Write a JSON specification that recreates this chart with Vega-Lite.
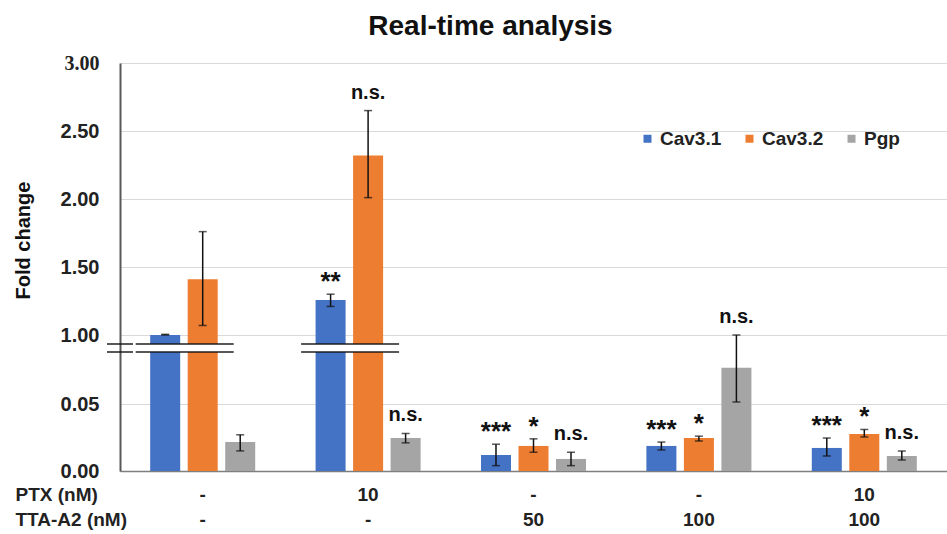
{
  "$schema": "https://vega.github.io/schema/vega-lite/v6.json",
  "autosize": {"type": "none"},
  "width": 827,
  "height": 408,
  "padding": {"left": 120, "top": 63, "right": 0, "bottom": 63},
  "background": "white",
  "title": {"text": "Real-time analysis", "font": "Liberation Sans", "fontSize": 28, "fontWeight": "bold", "color": "#111", "anchor": "middle", "dx": -43, "offset": 12},
  "config": {"view": {"stroke": null}},
  "datasets": {
    "bars": [
      {"group": "-|-", "series": "Cav3.1", "value": 1.0, "lo": 0.995, "hi": 1.005, "sig": ""},
      {"group": "-|-", "series": "Cav3.2", "value": 1.41, "lo": 1.07, "hi": 1.76, "sig": ""},
      {"group": "-|-", "series": "Pgp", "value": 0.0216, "lo": 0.015, "hi": 0.027, "sig": ""},
      {"group": "10|-", "series": "Cav3.1", "value": 1.257, "lo": 1.21, "hi": 1.30, "sig": "**"},
      {"group": "10|-", "series": "Cav3.2", "value": 2.32, "lo": 2.01, "hi": 2.65, "sig": "n.s."},
      {"group": "10|-", "series": "Pgp", "value": 0.0246, "lo": 0.021, "hi": 0.028, "sig": "n.s."},
      {"group": "-|50", "series": "Cav3.1", "value": 0.012, "lo": 0.004, "hi": 0.020, "sig": "***"},
      {"group": "-|50", "series": "Cav3.2", "value": 0.0187, "lo": 0.014, "hi": 0.024, "sig": "*"},
      {"group": "-|50", "series": "Pgp", "value": 0.009, "lo": 0.004, "hi": 0.014, "sig": "n.s."},
      {"group": "-|100", "series": "Cav3.1", "value": 0.0187, "lo": 0.0157, "hi": 0.0216, "sig": "***"},
      {"group": "-|100", "series": "Cav3.2", "value": 0.0246, "lo": 0.0224, "hi": 0.026, "sig": "*"},
      {"group": "-|100", "series": "Pgp", "value": 0.077, "lo": 0.0515, "hi": 0.102, "sig": "n.s."},
      {"group": "10|100", "series": "Cav3.1", "value": 0.0172, "lo": 0.0112, "hi": 0.0246, "sig": "***"},
      {"group": "10|100", "series": "Cav3.2", "value": 0.0276, "lo": 0.0254, "hi": 0.031, "sig": "*"},
      {"group": "10|100", "series": "Pgp", "value": 0.0112, "lo": 0.0082, "hi": 0.0149, "sig": "n.s."}
    ],
    "breaks": [
      {"group": "-|-", "top": 0.0948, "bottom": 0.0888},
      {"group": "10|-", "top": 0.0948, "bottom": 0.0888}
    ],
    "axisbreak": [
      {"group": "-|-", "top": 0.0948, "bottom": 0.0888}
    ]
  },
  "encoding": {
    "x": {
      "field": "group", "type": "nominal", "sort": ["-|-", "10|-", "-|50", "-|100", "10|100"],
      "scale": {"paddingInner": 0.365, "paddingOuter": 0.1825},
      "axis": {
        "title": ["PTX (nM)", "TTA-A2 (nM)"],
        "titleX": -105, "titleY": 14, "titleAlign": "left", "titleBaseline": "top", "titleAngle": 0,
        "titleLineHeight": 25, "titleFont": "Liberation Sans", "titleFontSize": 19, "titleFontWeight": "bold", "titleColor": "#222",
        "labelExpr": "split(datum.value, '|')", "labelAngle": 0, "labelLineHeight": 25,
        "labelFont": "Liberation Sans", "labelFontSize": 19, "labelFontWeight": "bold", "labelColor": "#222",
        "labelPadding": 14, "labelBaseline": "top",
        "ticks": false, "domainColor": "#7f7f7f", "domainWidth": 1.5, "grid": false
      }
    },
    "y": {
      "type": "quantitative",
      "scale": {"type": "linear", "domain": [0, 0.1015, 1.0, 3.0], "range": [408, 272, 272, 0], "nice": false, "zero": false},
      "axis": {
        "title": "Fold change", "titleFont": "Liberation Sans", "titleFontSize": 20, "titleFontWeight": "bold", "titleColor": "#111",
        "titleX": -87, "titleY": 177, "titleAngle": 270, "titleBaseline": "bottom", "titleAlign": "center",
        "values": [0, 0.05, 1, 1.5, 2, 2.5, 3], "format": ".2f",
        "labelFont": {"condition": {"test": "datum.value == 3", "value": "Liberation Serif"}, "value": "Liberation Sans"},
        "labelFontSize": 20, "labelFontWeight": "bold", "labelColor": "#222", "labelPadding": 21,
        "ticks": false, "domainColor": "#595959", "domainWidth": 2,
        "grid": true, "gridColor": "#d9d9d9", "gridWidth": 1
      }
    }
  },
  "layer": [
    {
      "data": {"name": "bars"},
      "mark": {"type": "bar"},
      "encoding": {
        "xOffset": {"field": "series", "type": "nominal", "scale": {"paddingInner": 0.2, "paddingOuter": 0}},
        "y": {"field": "value", "type": "quantitative"},
        "y2": {"datum": 0},
        "color": {
          "field": "series", "type": "nominal",
          "scale": {"domain": ["Cav3.1", "Cav3.2", "Pgp"], "range": ["#4472C4", "#ED7D31", "#A5A5A5"]},
          "legend": {
            "title": null, "orient": "none", "legendX": 518, "legendY": 66, "direction": "horizontal",
            "symbolType": "square", "symbolSize": 64, "symbolStrokeWidth": 0, "labelFont": "Liberation Sans", "labelFontSize": 19, "labelFontWeight": "bold", "labelColor": "#222",
            "columnPadding": 18, "labelOffset": 3
          }
        }
      }
    },
    {
      "data": {"name": "breaks"},
      "mark": {"type": "bar", "color": "white", "width": 98, "xOffset": -18},
      "encoding": {
        "y": {"field": "top", "type": "quantitative"},
        "y2": {"field": "bottom"}
      }
    },
    {
      "data": {"name": "breaks"},
      "mark": {"type": "tick", "color": "#111", "size": 98, "thickness": 2, "xOffset": -18},
      "encoding": {"y": {"field": "top", "type": "quantitative"}}
    },
    {
      "data": {"name": "breaks"},
      "mark": {"type": "tick", "color": "#111", "size": 98, "thickness": 2, "xOffset": -18},
      "encoding": {"y": {"field": "bottom", "type": "quantitative"}}
    },
    {
      "data": {"name": "axisbreak"},
      "mark": {"type": "tick", "color": "#111", "size": 26, "thickness": 2, "xOffset": -82.7},
      "encoding": {"y": {"field": "top", "type": "quantitative"}}
    },
    {
      "data": {"name": "axisbreak"},
      "mark": {"type": "tick", "color": "#111", "size": 26, "thickness": 2, "xOffset": -82.7},
      "encoding": {"y": {"field": "bottom", "type": "quantitative"}}
    },
    {
      "data": {"name": "bars"},
      "mark": {"type": "rule", "color": "#111", "strokeWidth": 1.5},
      "encoding": {
        "xOffset": {"field": "series", "type": "nominal"},
        "y": {"field": "lo", "type": "quantitative"},
        "y2": {"field": "hi"}
      }
    },
    {
      "data": {"name": "bars"},
      "mark": {"type": "tick", "color": "#111", "size": 8, "thickness": 1.5},
      "encoding": {
        "xOffset": {"field": "series", "type": "nominal"},
        "y": {"field": "lo", "type": "quantitative"}
      }
    },
    {
      "data": {"name": "bars"},
      "mark": {"type": "tick", "color": "#111", "size": 8, "thickness": 1.5},
      "encoding": {
        "xOffset": {"field": "series", "type": "nominal"},
        "y": {"field": "hi", "type": "quantitative"}
      }
    },
    {
      "data": {"name": "bars"},
      "transform": [{"filter": "datum.sig == 'n.s.'"}],
      "mark": {"type": "text", "baseline": "bottom", "dy": -8, "font": "Liberation Sans", "fontSize": 20, "fontWeight": "bold", "color": "#111"},
      "encoding": {
        "xOffset": {"field": "series", "type": "nominal"},
        "y": {"field": "hi", "type": "quantitative"},
        "text": {"field": "sig"}
      }
    },
    {
      "data": {"name": "bars"},
      "transform": [{"filter": "indexof(datum.sig, '*') >= 0"}],
      "mark": {"type": "text", "baseline": "middle", "dy": -12, "font": "Liberation Sans", "fontSize": 26, "fontWeight": "bold", "color": "#111"},
      "encoding": {
        "xOffset": {"field": "series", "type": "nominal"},
        "y": {"field": "hi", "type": "quantitative"},
        "text": {"field": "sig"}
      }
    }
  ]
}
